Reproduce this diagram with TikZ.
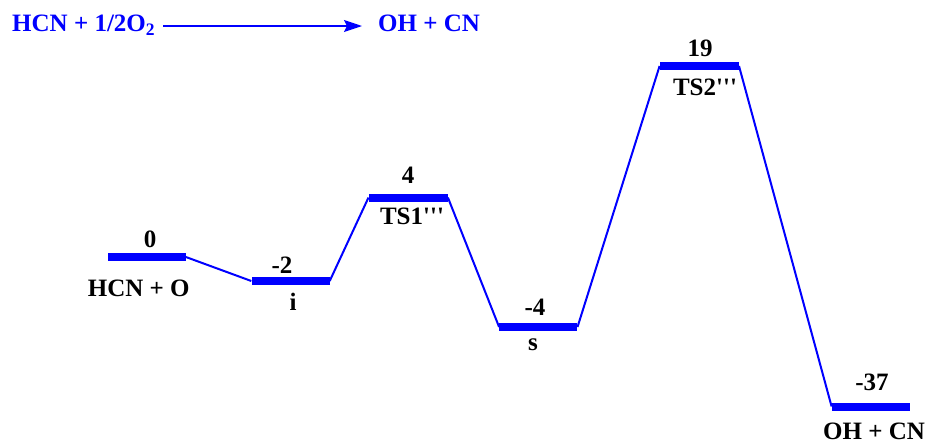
\documentclass[tikz,border=0pt]{standalone}
\usepackage{fontspec}
\setmainfont{Liberation Serif}
\usetikzlibrary{arrows.meta}
\definecolor{eblue}{RGB}{0,0,255}
\newcommand{\tq}{\textquotesingle\textquotesingle\textquotesingle}
\begin{document}
\begin{tikzpicture}[x=1pt,y=-1pt,
  font=\fontsize{25}{28}\selectfont\bfseries,
  bar/.style={fill=eblue, inner sep=0pt, minimum height=8pt, minimum width=78pt},
  lbl/.style={inner sep=0pt, anchor=base},
  conn/.style={eblue, line width=2pt},
  ttl/.style={inner sep=0pt, anchor=base west, text=eblue}]
\useasboundingbox (0,0) rectangle (928,445);
% levels
\node[bar] (R)   at (146.7,257) {};
\node[bar] (I)   at (290.5,281) {};
\node[bar, minimum width=79pt] (TSa) at (408.2,197.5) {};
\node[bar] (S)   at (538.3,327) {};
\node[bar, minimum width=79pt] (TSb) at (699.3,66) {};
\node[bar] (P)   at (870.8,406.5) {};
% connectors
\draw[conn] (R.east) -- (I.west);
\draw[conn] (I.east) -- (TSa.west);
\draw[conn] (TSa.east) -- (S.west);
\draw[conn] (S.east) -- (TSb.west);
\draw[conn] (TSb.east) -- (P.west);
% labels
\node[lbl] (eR) at (150,247) {0};
\node[lbl] (nR) at (138.7,296.7) {HCN + O};
\node[lbl] (eI) at (282,273.3) {-2};
\node[lbl] (nI) at (293,310.7) {i};
\node[lbl] (eTa) at (408,183.3) {4};
\node[lbl] (nTa) at (412,224) {TS1\tq};
\node[lbl] (eS) at (535,315) {-4};
\node[lbl] (nS) at (533,350) {s};
\node[lbl] (eTb) at (700,56.7) {19};
\node[lbl] (nTb) at (705,95) {TS2\tq};
\node[lbl] (eP) at (872,390) {-37};
\node[lbl] (nP) at (874,439) {OH + CN};
% title reaction
\node[ttl] (t1) at (12,31.7) {HCN + 1/2O\textsubscript{2}};
\node[ttl] (t2) at (378,31.7) {OH + CN};
\draw[eblue, line width=1.6pt, -{Stealth[length=18pt,width=12pt,inset=3pt]}, shorten <=8pt, shorten >=16pt]
  (t1.east |- 0,26) -- (t2.west |- 0,26);
\end{tikzpicture}
\end{document}
